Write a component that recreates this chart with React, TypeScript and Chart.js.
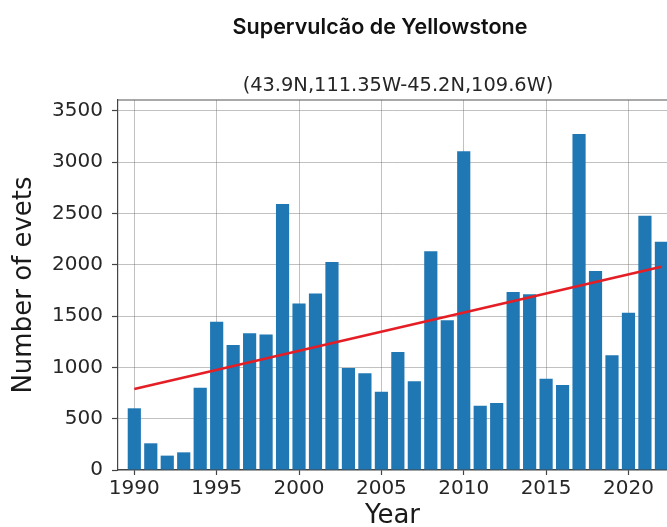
import React, { useEffect, useRef } from "react";
import { Chart, registerables } from "chart.js";

Chart.register(...registerables);

const years = [
  1990, 1991, 1992, 1993, 1994, 1995, 1996, 1997, 1998, 1999, 2000, 2001, 2002,
  2003, 2004, 2005, 2006, 2007, 2008, 2009, 2010, 2011, 2012, 2013, 2014, 2015,
  2016, 2017, 2018, 2019, 2020, 2021, 2022,
];
const events = [
  601, 260, 140, 172, 802, 1445, 1218, 1331, 1321, 2591, 1623, 1718, 2026,
  994, 942, 763, 1150, 864, 2130, 1458, 3104, 626, 653, 1734, 1711, 889,
  828, 3273, 1938, 1117, 1532, 2477, 2224,
];
const trendYears = [1990, 2022];
const trendValues = [789, 1980];
const xTicks = [1990, 1995, 2000, 2005, 2010, 2015, 2020];
const yTicks = [0, 500, 1000, 1500, 2000, 2500, 3000, 3500];

const titleText = "Supervulcão de Yellowstone";
const subtitleText = "(43.9N,111.35W-45.2N,109.6W)";
const xTitle = "Year";
const yTitle = "Number of evets";

const TICK_FONT = "'DejaVu Sans', sans-serif";

export default function App() {
  const canvasRef = useRef<HTMLCanvasElement | null>(null);

  useEffect(() => {
    document.body.style.margin = "0";
    const canvas = canvasRef.current;
    if (!canvas) return;

    const frame = {
      id: "frame",
      afterDraw(chart: any) {
        const { ctx, chartArea } = chart;
        ctx.save();
        ctx.strokeStyle = "#555555";
        ctx.lineWidth = 1.2;
        ctx.beginPath();
        ctx.moveTo(chartArea.left, chartArea.top);
        ctx.lineTo(chartArea.right, chartArea.top);
        ctx.stroke();
        ctx.fillStyle = "#262626";
        ctx.font = `19.4px ${TICK_FONT}`;
        ctx.textAlign = "center";
        ctx.textBaseline = "middle";
        ctx.fillText(subtitleText, 398, 86);
        ctx.restore();
      },
    };

    const chart = new Chart(canvas, {
      type: "bar",
      data: {
        datasets: [
          {
            type: "line",
            data: trendYears.map((x, i) => ({ x, y: trendValues[i] })),
            borderColor: "rgb(228, 30, 36)",
            borderWidth: 2.6,
            pointRadius: 0,
            order: 1,
          } as any,
          {
            type: "bar",
            data: years.map((x, i) => ({ x, y: events[i] })),
            backgroundColor: "#1f77b4",
            borderWidth: 0,
            barPercentage: 0.8,
            categoryPercentage: 1.0,
            order: 2,
          },
        ],
      },
      plugins: [frame],
      options: {
        responsive: false,
        animation: false,
        layout: { padding: { top: 100, right: 0, left: 0, bottom: 0 } },
        plugins: {
          legend: { display: false },
          tooltip: { enabled: false },
          title: { display: false },
        },
        scales: {
          x: {
            type: "linear",
            min: 1989.01,
            max: 2022.34,
            offset: false,
            z: 1,
            afterBuildTicks: (scale: any) => {
              scale.ticks = xTicks.map((v) => ({ value: v }));
            },
            afterFit: (scale: any) => {
              scale.height = 57;
            },
            ticks: {
              callback: (v: any) => String(v),
              font: { family: TICK_FONT, size: 20 },
              color: "#262626",
              padding: 2,
              maxRotation: 0,
              autoSkip: false,
            },
            grid: {
              offset: false,
              color: "rgba(100,100,100,0.4)",
              lineWidth: 1,
              tickLength: 5,
              tickColor: "#444444",
              tickWidth: 1.2,
            },
            border: { display: true, color: "#444444", width: 1.2 },
            title: {
              display: true,
              text: xTitle,
              font: { family: TICK_FONT, size: 26, lineHeight: 0.8 },
              color: "#1a1a1a",
              padding: { top: 0, bottom: 0 },
            },
          },
          y: {
            type: "linear",
            min: 0,
            max: 3604,
            z: 1,
            afterBuildTicks: (scale: any) => {
              scale.ticks = yTicks.map((v) => ({ value: v }));
            },
            afterFit: (scale: any) => {
              scale.width = 118;
            },
            ticks: {
              callback: (v: any) => String(v),
              font: { family: TICK_FONT, size: 20 },
              color: "#262626",
              padding: 9,
              autoSkip: false,
            },
            grid: {
              color: "rgba(100,100,100,0.4)",
              lineWidth: 1,
              tickLength: 6,
              tickColor: "#444444",
              tickWidth: 1.2,
            },
            border: { display: true, color: "#444444", width: 1.2 },
            title: {
              display: true,
              text: yTitle,
              font: { family: TICK_FONT, size: 26, lineHeight: 1.2 },
              color: "#1a1a1a",
              padding: { top: 9, bottom: 0 },
            },
          },
        },
      },
    });

    return () => chart.destroy();
  }, []);

  return (
    <div style={{ position: "relative", width: 667, height: 527, overflow: "hidden", background: "#ffffff" }}>
      <canvas ref={canvasRef} width={667} height={527} style={{ position: "absolute", left: 0, top: 0, width: 667, height: 527 }} />
      <div
        style={{
          position: "absolute",
          left: 380,
          top: 12,
          transform: "translateX(-50%)",
          whiteSpace: "nowrap",
          fontFamily: "Inter, 'Noto Sans', sans-serif",
          fontWeight: 600,
          fontSize: 21.5,
          lineHeight: "28px",
          color: "#111111",
        }}
      >
        {titleText}
      </div>
    </div>
  );
}
